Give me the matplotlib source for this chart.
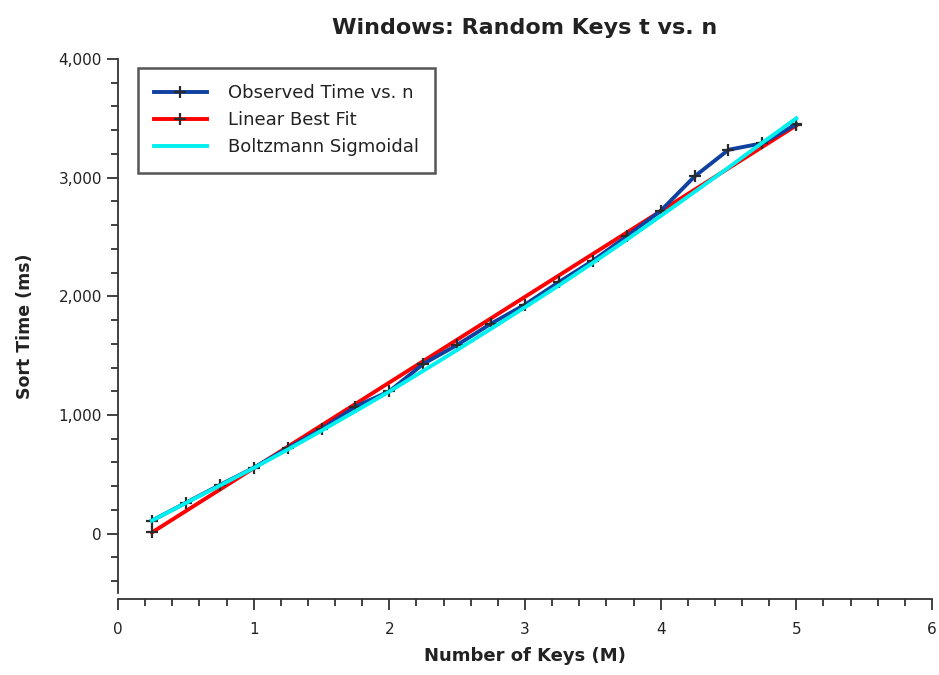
import matplotlib.pyplot as plt
from matplotlib.ticker import MultipleLocator, StrMethodFormatter

# data
keys_m = [0.25, 0.5, 0.75, 1.0, 1.25, 1.5, 1.75, 2.0, 2.25, 2.5,
          2.75, 3.0, 3.25, 3.5, 3.75, 4.0, 4.25, 4.5, 4.75, 5.0]
observed_ms = [110, 260, 410, 555, 720, 880, 1070, 1200, 1430, 1590,
               1770, 1930, 2120, 2300, 2505, 2720, 3010, 3235, 3290, 3450]
linear_x = [0.25, 5.0]
linear_ms = [10, 3440]
boltz_ms = [110, 258, 405, 553, 708, 868, 1032, 1198, 1372, 1548,
            1727, 1908, 2092, 2282, 2477, 2677, 2880, 3085, 3295, 3500]

text_col = '#222222'

fig = plt.figure(figsize=(9.39, 6.75), dpi=100)
ax = fig.add_axes([0.1257, 0.1215, 0.8668, 0.7911])

ax.plot(keys_m, observed_ms, color='#1040a0', lw=2.8, marker='+',
        ms=8, mew=1.6, mec='#2a2a2a', label='Observed Time vs. n', zorder=3)
ax.plot(linear_x, linear_ms, color='#ff0000', lw=2.8, marker='+',
        ms=8, mew=1.6, mec='#2a2a2a', label='Linear Best Fit', zorder=2)
ax.plot(keys_m, boltz_ms, color='#00f0f0', lw=2.8,
        label='Boltzmann Sigmoidal', zorder=4)

ax.set_xlim(0, 6)
ax.set_ylim(-500, 4000)
ax.xaxis.set_major_locator(MultipleLocator(1))
ax.xaxis.set_minor_locator(MultipleLocator(0.2))
ax.yaxis.set_major_locator(MultipleLocator(1000))
ax.yaxis.set_minor_locator(MultipleLocator(200))
ax.yaxis.set_major_formatter(StrMethodFormatter('{x:,.0f}'))

for s in ['top', 'right']:
    ax.spines[s].set_visible(False)
ax.spines['bottom'].set_position(('outward', 4))
for s in ['left', 'bottom']:
    ax.spines[s].set_linewidth(1.3)
    ax.spines[s].set_color('#333333')

ax.tick_params(which='major', length=8, width=1.3, color='#333333',
               labelsize=11, labelcolor=text_col)
ax.tick_params(which='minor', length=5, width=1.3, color='#333333')
ax.tick_params(axis='x', which='major', pad=9)

ax.set_xlabel('Number of Keys (M)', fontsize=13, fontweight='bold',
              color=text_col, labelpad=7)
ax.set_ylabel('Sort Time (ms)', fontsize=12.5, fontweight='bold',
              color=text_col, labelpad=18)
ax.set_title('Windows: Random Keys t vs. n', fontsize=16, fontweight='bold',
             color=text_col, pad=18)

leg = ax.legend(loc='upper left', bbox_to_anchor=(0.02, 0.99), fontsize=13,
                fancybox=False, edgecolor='#555555', framealpha=1,
                handlelength=2.9, handletextpad=1.2, borderpad=0.9,
                labelspacing=0.5, borderaxespad=0.2)
leg.get_frame().set_linewidth(1.8)
for t in leg.get_texts():
    t.set_color(text_col)

fig.savefig('out.png', dpi=100)
